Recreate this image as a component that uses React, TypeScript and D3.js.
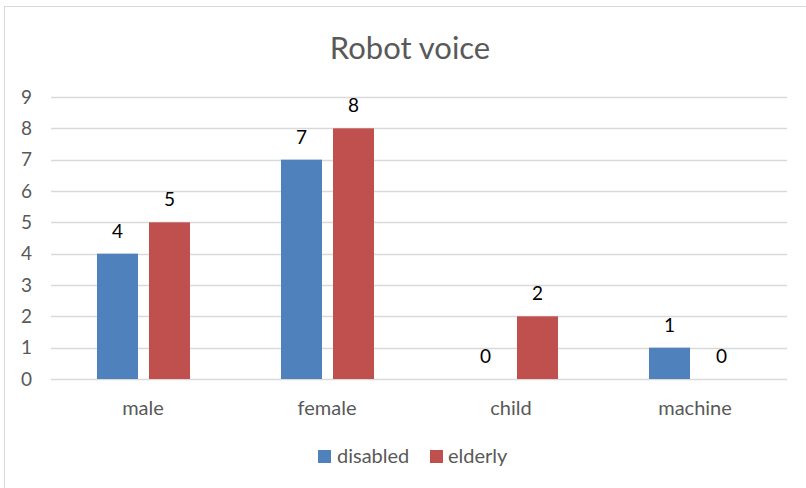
import React from "react";
import * as d3 from "d3";

const categories = ["male", "female", "child", "machine"];
const seriesNames = ["disabled", "elderly"];
const disabledValues = [4, 7, 0, 1];
const elderlyValues = [5, 8, 2, 0];
const yTicks = [0, 1, 2, 3, 4, 5, 6, 7, 8, 9];

const colors = ["#4f81bd", "#c0504d"];
const font = "Lato, 'Open Sans', sans-serif";

const App: React.FC = () => {
  const width = 806;
  const height = 488;
  const plot = { left: 51, right: 787, top: 97, bottom: 379 };

  const x0 = d3
    .scaleBand<string>()
    .domain(categories)
    .range([plot.left, plot.right])
    .padding(0);

  // group of two bars sits in the middle of each category band
  const x1 = d3
    .scaleBand<string>()
    .domain(seriesNames)
    .range([46, 139])
    .paddingInner(11 / 52)
    .paddingOuter(0);

  const y = d3.scaleLinear().domain([0, 9]).range([plot.bottom, plot.top]);

  const values = [disabledValues, elderlyValues];

  return (
    <svg
      width={width}
      height={height}
      style={{ position: "absolute", left: 0, top: 0, background: "#fff" }}
    >
      <rect x={4.5} y={6.5} width={900} height={900} fill="#fff" stroke="#d9d9d9" />
      <text
        x={410}
        y={59}
        textAnchor="middle"
        fontFamily={font}
        fontSize={31}
        fill="#595959"
      >
        Robot voice
      </text>

      {yTicks.map((t) => (
        <g key={t}>
          <line
            x1={plot.left}
            x2={plot.right}
            y1={Math.round(y(t)) + 0.5}
            y2={Math.round(y(t)) + 0.5}
            stroke="#d9d9d9"
            strokeWidth={1.3}
          />
          <text
            x={32}
            y={y(t) + 6.5}
            textAnchor="end"
            fontFamily={font}
            fontSize={19}
            fill="#595959"
          >
            {t}
          </text>
        </g>
      ))}

      {categories.map((c, i) => (
        <g key={c} transform={`translate(${x0(c)},0)`}>
          {seriesNames.map((s, j) => {
            const v = values[j][i];
            const bx = x1(s) ?? 0;
            return (
              <g key={s}>
                <rect
                  x={bx}
                  y={y(v)}
                  width={x1.bandwidth()}
                  height={y(0) - y(v)}
                  fill={colors[j]}
                />
                <text
                  x={bx + x1.bandwidth() / 2}
                  y={y(v) - 16}
                  textAnchor="middle"
                  fontFamily={font}
                  fontSize={19}
                  fill="#000"
                >
                  {v}
                </text>
              </g>
            );
          })}
          <text
            x={x0.bandwidth() / 2}
            y={415}
            textAnchor="middle"
            fontFamily={font}
            fontSize={20}
            fill="#595959"
          >
            {c}
          </text>
        </g>
      ))}

      <g>
        <rect x={318} y={450} width={13} height={13} fill={colors[0]} />
        <text x={337} y={463} fontFamily={font} fontSize={20} fill="#595959">
          {seriesNames[0]}
        </text>
        <rect x={430} y={450} width={13} height={13} fill={colors[1]} />
        <text x={448} y={463} fontFamily={font} fontSize={20} fill="#595959">
          {seriesNames[1]}
        </text>
      </g>
    </svg>
  );
};

export default App;
